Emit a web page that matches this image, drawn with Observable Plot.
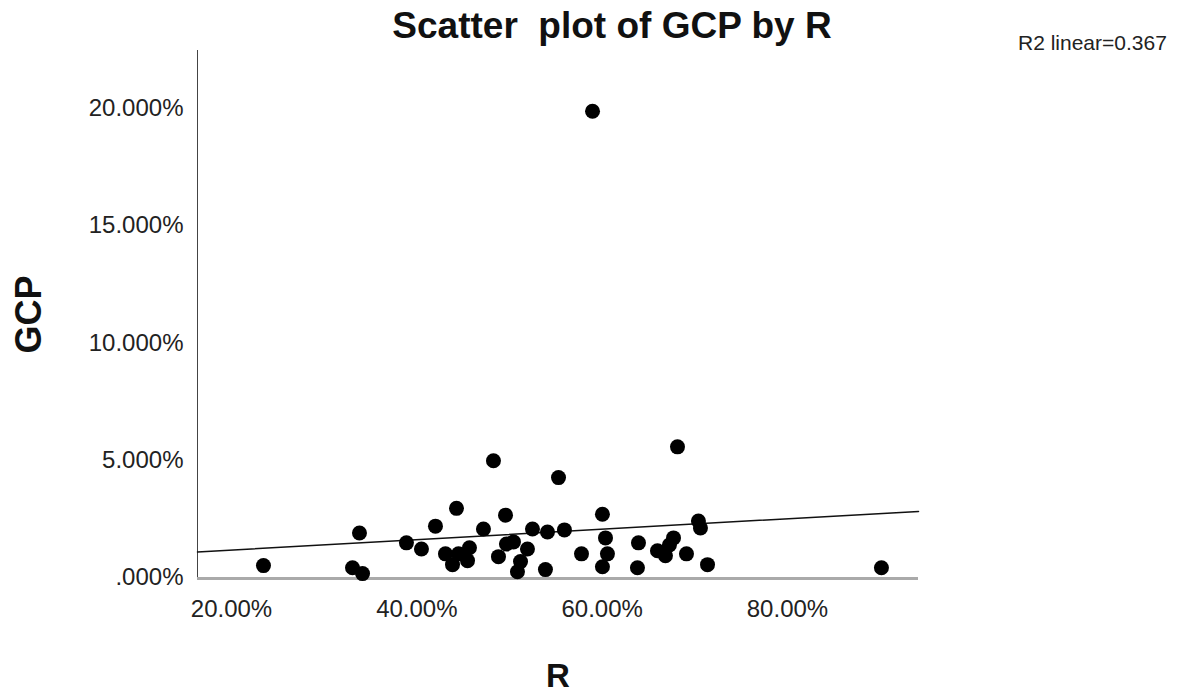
<!DOCTYPE html>
<html>
<head>
<meta charset="utf-8">
<script src="https://cdn.jsdelivr.net/npm/d3@7"></script>
<script src="https://cdn.jsdelivr.net/npm/@observablehq/plot@0.6"></script>
<style>
  html, body { margin: 0; padding: 0; background: #fff; }
  #wrap { position: relative; width: 1203px; height: 696px; font-family: "Liberation Sans", Arial, sans-serif; }
  #title { position: absolute; left: 0; width: 1224px; top: 7px; line-height: 1; text-align: center; font-size: 37px; font-weight: bold; color: #111; white-space: pre; }
  #r2 { position: absolute; left: 1018px; top: 32px; line-height: 1; font-size: 21px; color: #222; white-space: pre; }
  #chart { position: absolute; left: 0; top: 0; }
</style>
</head>
<body>
<div id="wrap">
  <div id="chart"></div>
  <div id="title">Scatter  plot of GCP by R</div>
  <div id="r2">R2 linear=0.367</div>
</div>
<script>
// R values (%)
const rValues = [23.45, 33.06, 34.14, 33.81, 38.88, 40.50, 42.01, 44.28, 43.09, 43.85,
  44.50, 45.47, 45.68, 47.19, 48.27, 49.57, 48.81, 49.67, 50.43, 51.19,
  50.86, 51.94, 52.48, 53.88, 54.10, 55.29, 55.93, 57.77, 60.03, 60.36,
  60.57, 60.03, 63.92, 63.81, 65.97, 66.83, 67.26, 67.70, 69.10, 70.39,
  70.61, 71.37, 68.13, 90.14, 58.96];
// GCP values (%)
const gcpValues = [0.51, 0.42, 0.17, 1.90, 1.48, 1.22, 2.19, 2.95, 1.01, 0.55,
  1.01, 0.72, 1.27, 2.07, 4.98, 2.66, 0.89, 1.43, 1.52, 0.68,
  0.25, 1.22, 2.07, 0.34, 1.94, 4.26, 2.03, 1.01, 2.70, 1.69,
  1.01, 0.46, 1.48, 0.42, 1.14, 0.93, 1.39, 1.69, 1.01, 2.41,
  2.11, 0.55, 5.57, 0.42, 19.87];
// Fit line end points (R %, GCP %)
const fitR = [16.33, 94.14];
const fitGCP = [1.09, 2.82];
const xTicks = [20, 40, 60, 80];
const yTicks = [0, 5, 10, 15, 20];

const points = rValues.map((r, i) => ({r, gcp: gcpValues[i]}));
const fit = fitR.map((r, i) => ({r, gcp: fitGCP[i]}));
const xDomain = [16.33, 94.14];
const yDomain = [-0.04, 22.46];

const plot = Plot.plot({
  width: 1203,
  height: 696,
  marginLeft: 197,
  marginRight: 285,
  marginTop: 50,
  marginBottom: 118,
  style: {fontFamily: '"Liberation Sans", Arial, sans-serif', color: "#222", background: "#fff"},
  x: {domain: xDomain},
  y: {domain: yDomain},
  marks: [
    Plot.axisX({ticks: xTicks, tickSize: 0, tickPadding: 21, fontSize: 24, label: null,
      tickFormat: d => d.toFixed(2) + "%"}),
    Plot.axisY({ticks: yTicks, tickSize: 0, tickPadding: 14, fontSize: 24, label: null,
      tickFormat: d => d === 0 ? ".000%" : d.toFixed(3) + "%"}),
    Plot.ruleX([xDomain[0]], {y1: yDomain[0], y2: yDomain[1], stroke: "#444", strokeWidth: 1}),
    Plot.ruleY([yDomain[0]], {x1: xDomain[0], x2: xDomain[1], stroke: "#aaa", strokeWidth: 3}),
    Plot.line(fit, {x: "r", y: "gcp", stroke: "#111", strokeWidth: 1.5}),
    Plot.dot(points, {x: "r", y: "gcp", r: 7.5, fill: "#000", stroke: "none"}),
    Plot.text(["R"], {frameAnchor: "bottom", lineAnchor: "middle", dy: 98, fontSize: 33, fontWeight: "bold", fill: "#111"}),
    Plot.text(["GCP"], {frameAnchor: "left", textAnchor: "middle", lineAnchor: "middle", dx: -168, rotate: -90, fontSize: 36, fontWeight: "bold", fill: "#111"})
  ]
});
document.getElementById("chart").appendChild(plot);
</script>
</body>
</html>
